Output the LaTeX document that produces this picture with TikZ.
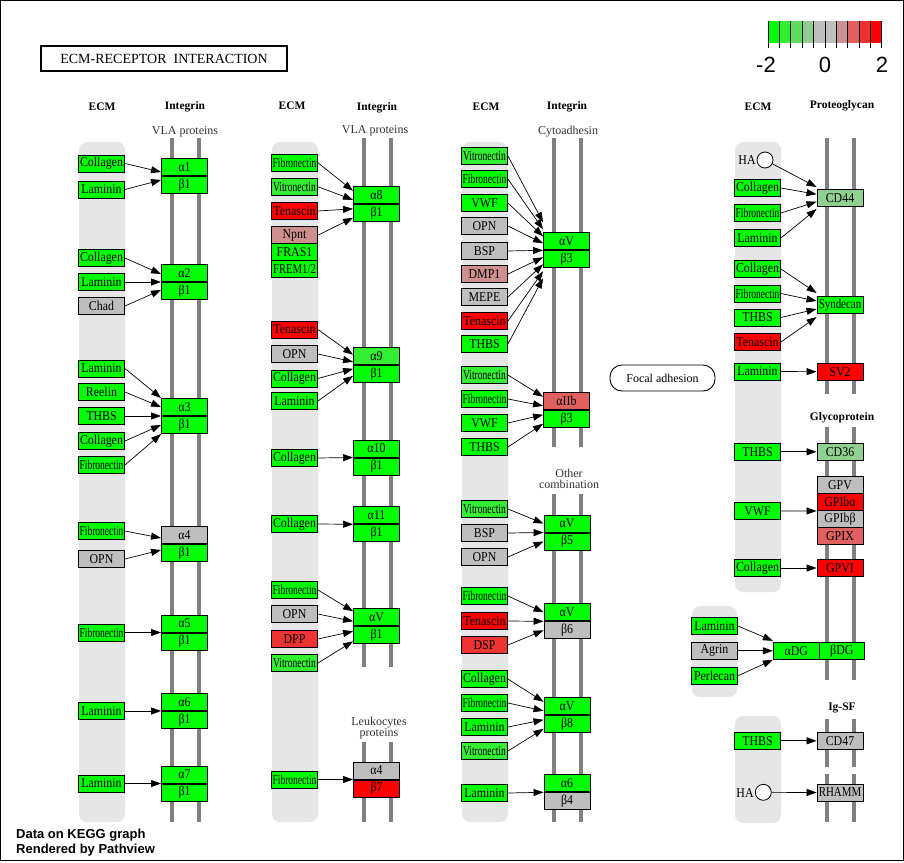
\documentclass[tikz,border=0pt]{standalone}
\usepackage{fontspec}
\setmainfont{Liberation Serif}
\newfontfamily\sansf{Liberation Sans}
\newfontfamily\genef[FakeStretch=0.88]{Liberation Serif}
\usetikzlibrary{arrows.meta,calc}
\definecolor{gA}{HTML}{00FF00}
\definecolor{gB}{HTML}{33EE33}
\definecolor{gC}{HTML}{90D090}
\definecolor{gy}{HTML}{BEBEBE}
\definecolor{rA}{HTML}{CE8F8F}
\definecolor{rB}{HTML}{E06060}
\definecolor{rC}{HTML}{EE3333}
\definecolor{rD}{HTML}{FF0000}
\definecolor{band}{HTML}{E6E6E6}
\definecolor{bar}{HTML}{808080}
\newcommand{\genefont}{\genef\fontsize{13.5}{13.5}\selectfont}
\newcommand{\sq}[2][0.8]{\scalebox{#1}[1]{#2}}
\newcommand{\gn}[5]{\node[gene,fill=#4] (#1) at (#2,#3) {#5};}
\newcommand{\ip}[7]{\node[gene,fill=#5,anchor=south] (#1a) at (#2,#3) {#4};
  \node[gene,fill=#7,anchor=north] (#1b) at (#2,#3) {#6};}
\newcommand{\arw}[3]{\draw[arr] (#1) -- ($(#2)+(0,#3)$);}
\tikzset{
  gene/.style={draw=black, line width=0.9pt, minimum width=46pt, minimum height=17pt, inner sep=0pt, font=\genefont},
  arr/.style={line width=0.7pt, -{Triangle[length=10pt,width=7pt]}},
  hdr/.style={font=\bfseries\fontsize{11.5}{12}\selectfont},
  sub/.style={font=\fontsize{12}{12}\selectfont, text=black!80, align=center, inner sep=0pt},
  bandbox/.style={fill=band, rounded corners=8pt},
  barline/.style={draw=bar, line width=4pt},
  hacirc/.style={draw, circle, fill=white, minimum size=16pt, inner sep=0pt, line width=0.8pt}
}
\begin{document}
\begin{tikzpicture}[x=1pt,y=-1pt]
\useasboundingbox (0,0) rectangle (904,862);
\fill[white] (0,0) rectangle (904,862);
\draw[line width=1pt] (0.5,0.5) rectangle (903.5,860.5);
% title
\node[draw, line width=1.5pt, minimum width=246pt, minimum height=25pt, inner sep=0pt, font=\fontsize{14}{14}\selectfont] (title) at (164,58.5) {ECM-RECEPTOR\ \ INTERACTION};
% legend
\foreach \c [count=\i from 0] in {00FF00,30EE30,5CDD5C,8FCC8F,BEBEBE,BEBEBE,CE8F8F,E06060,EF3030,FF0000}{
  \definecolor{tmpc}{HTML}{\c}
  \fill[tmpc] (768.3+\i*11.34,21) rectangle (768.3+\i*11.34+11.34,42.7);
}
\foreach \i in {0,...,10}{ \draw[line width=1pt] (768.3+\i*11.34,21) -- (768.3+\i*11.34,48.3); }
\node[font=\sansf\fontsize{22}{22}\selectfont, inner sep=0pt] (lm2) at (766,65) {-2};
\node[font=\sansf\fontsize{22}{22}\selectfont, inner sep=0pt] (l0) at (825,65) {0};
\node[font=\sansf\fontsize{22}{22}\selectfont, inner sep=0pt] (l2) at (882,65) {2};
% bands
\fill[bandbox] (79,142) rectangle (125,822);
\fill[bandbox] (272,142) rectangle (318,822);
\fill[bandbox] (462,142) rectangle (508,822);
\fill[bandbox] (735,142) rectangle (781,592);
\fill[bandbox] (692,606) rectangle (737,697);
\fill[bandbox] (735,716) rectangle (781,823);
% bars
\draw[barline] (172,138) -- (172,822); \draw[barline] (199,138) -- (199,822);
\draw[barline] (364,138) -- (364,667); \draw[barline] (391,138) -- (391,667);
\draw[barline] (364,742) -- (364,822); \draw[barline] (391,742) -- (391,822);
\draw[barline] (554,138) -- (554,447); \draw[barline] (581,138) -- (581,447);
\draw[barline] (554,494) -- (554,822); \draw[barline] (581,494) -- (581,822);
\draw[barline] (827,138) -- (827,394); \draw[barline] (854,138) -- (854,394);
\draw[barline] (827,427) -- (827,680); \draw[barline] (854,427) -- (854,680);
\draw[barline] (827,719) -- (827,767); \draw[barline] (854,719) -- (854,767);
\draw[barline] (827,774) -- (827,822); \draw[barline] (854,774) -- (854,822);
% headers
\node[hdr] (h1) at (102,107) {ECM};
\node[hdr] (h2) at (185,107) {Integrin};
\node[sub] (s1) at (185,132) {VLA proteins};
\node[hdr] (h3) at (292,106) {ECM};
\node[hdr] (h4) at (377,108) {Integrin};
\node[sub] (s2) at (375,131) {VLA proteins};
\node[hdr] (h5) at (486,107) {ECM};
\node[hdr] (h6) at (567,107) {Integrin};
\node[sub] (s3) at (568,132) {Cytoadhesin};
\node[hdr] (h7) at (758,107) {ECM};
\node[hdr] (h8) at (842,106) {Proteoglycan};
\node[hdr] (h9) at (842,418) {Glycoprotein};
\node[hdr] (h10) at (842,708) {Ig-SF};
\node[sub] (s4) at (569,479) {Other\\[-1pt]combination};
\node[sub] (s5) at (379,728) {Leukocytes\\[-1pt]proteins};
% ---------- column 1 ----------
\ip{i1}{184.5}{176}{α1}{gA}{β1}{gA}
\gn{e11}{101.5}{163.5}{gA}{Collagen}
\gn{e12}{101.5}{189.5}{gA}{Laminin}
\arw{e11.east}{i1a.south west}{-4}
\arw{e12.east}{i1a.south west}{4}
\ip{i2}{184.5}{282}{α2}{gA}{β1}{gA}
\gn{e21}{101.5}{258}{gA}{Collagen}
\gn{e22}{101.5}{282}{gA}{Laminin}
\gn{e23}{101.5}{306}{gy}{Chad}
\arw{e21.east}{i2a.south west}{-8}
\arw{e22.east}{i2a.south west}{0}
\arw{e23.east}{i2a.south west}{8}
\ip{i3}{184.5}{416}{α3}{gA}{β1}{gA}
\gn{e31}{101.5}{368.5}{gA}{Laminin}
\gn{e32}{101.5}{392}{gA}{Reelin}
\gn{e33}{101.5}{416}{gA}{THBS}
\gn{e34}{101.5}{441}{gA}{Collagen}
\gn{e35}{101.5}{465}{gA}{\sq{Fibronectin}}
\arw{e31.east}{i3a.south west}{-18}
\arw{e32.east}{i3a.south west}{-9}
\arw{e33.east}{i3a.south west}{0}
\arw{e34.east}{i3a.south west}{9}
\arw{e35.east}{i3a.south west}{18}
\ip{i4}{184.5}{544}{α4}{gy}{β1}{gA}
\gn{e41}{101.5}{531}{gA}{\sq{Fibronectin}}
\gn{e42}{101.5}{559}{gy}{OPN}
\arw{e41.east}{i4a.south west}{-6}
\arw{e42.east}{i4a.south west}{6}
\ip{i5}{184.5}{632.5}{α5}{gA}{β1}{gA}
\gn{e51}{101.5}{632.5}{gA}{\sq{Fibronectin}}
\arw{e51.east}{i5a.south west}{0}
\ip{i6}{184.5}{711}{α6}{gA}{β1}{gA}
\gn{e61}{101.5}{711}{gA}{Laminin}
\arw{e61.east}{i6a.south west}{0}
\ip{i7}{184.5}{783.5}{α7}{gA}{β1}{gA}
\gn{e71}{101.5}{783.5}{gA}{Laminin}
\arw{e71.east}{i7a.south west}{0}
% ---------- column 2 ----------
\ip{i8}{376.5}{204.3}{α8}{gA}{β1}{gA}
\gn{f11}{294.5}{162.8}{gA}{\sq{Fibronectin}}
\gn{f12}{294.5}{186.8}{gB}{\sq{Vitronectin}}
\gn{f13}{294.5}{211}{rD}{Tenascin}
\gn{f14}{294.5}{235.2}{rA}{Npnt}
\gn{f15}{294.5}{252.2}{gA}{FRAS1}
\gn{f16}{294.5}{269.2}{gA}{\sq[0.9]{FREM1/2}}
\arw{f11.east}{i8a.south west}{-13.5}
\arw{f12.east}{i8a.south west}{-4.5}
\arw{f13.east}{i8a.south west}{4.5}
\arw{f14.east}{i8a.south west}{13.5}
\ip{i9}{376.5}{365.3}{α9}{gB}{β1}{gA}
\gn{f21}{294.5}{329.5}{rD}{Tenascin}
\gn{f22}{294.5}{354}{gy}{OPN}
\gn{f23}{294.5}{378.5}{gA}{Collagen}
\gn{f24}{294.5}{401}{gA}{Laminin}
\arw{f21.east}{i9a.south west}{-10.5}
\arw{f22.east}{i9a.south west}{-3.5}
\arw{f23.east}{i9a.south west}{3.5}
\arw{f24.east}{i9a.south west}{10.5}
\ip{i10}{376.5}{457.5}{α10}{gA}{β1}{gA}
\gn{f31}{294.5}{458}{gA}{Collagen}
\arw{f31.east}{i10a.south west}{0}
\ip{i11}{376.5}{524.3}{α11}{gA}{β1}{gA}
\gn{f41}{294.5}{524}{gA}{Collagen}
\arw{f41.east}{i11a.south west}{0}
\ip{iva}{376.5}{626.3}{αV}{gA}{β1}{gA}
\gn{f51}{294.5}{590}{gA}{\sq{Fibronectin}}
\gn{f52}{294.5}{614}{gy}{OPN}
\gn{f53}{294.5}{639}{rC}{DPP}
\gn{f54}{294.5}{663}{gB}{\sq{Vitronectin}}
\arw{f51.east}{ivaa.south west}{-15}
\arw{f52.east}{ivaa.south west}{-5}
\arw{f53.east}{ivaa.south west}{5}
\arw{f54.east}{ivaa.south west}{15}
\ip{ilk}{376.5}{779.5}{α4}{gy}{β7}{rD}
\gn{f61}{294.5}{779.5}{gA}{\sq{Fibronectin}}
\arw{f61.east}{ilka.south west}{0}
% ---------- column 3 ----------
\ip{ivb}{566.5}{250.3}{αV}{gA}{β3}{gA}
\gn{g11}{484.5}{156}{gB}{\sq{Vitronectin}}
\gn{g12}{484.5}{179}{gA}{\sq{Fibronectin}}
\gn{g13}{484.5}{203}{gA}{VWF}
\gn{g14}{484.5}{226}{gy}{OPN}
\gn{g15}{484.5}{251}{gy}{BSP}
\gn{g16}{484.5}{274}{rA}{DMP1}
\gn{g17}{484.5}{297}{gy}{MEPE}
\gn{g18}{484.5}{321}{rD}{Tenascin}
\gn{g19}{484.5}{344}{gA}{THBS}
\arw{g11.east}{ivba.south west}{-28}
\arw{g12.east}{ivba.south west}{-21}
\arw{g13.east}{ivba.south west}{-14}
\arw{g14.east}{ivba.south west}{-7}
\arw{g15.east}{ivba.south west}{0}
\arw{g16.east}{ivba.south west}{7}
\arw{g17.east}{ivba.south west}{14}
\arw{g18.east}{ivba.south west}{21}
\arw{g19.east}{ivba.south west}{28}
\ip{iib}{566.5}{410.3}{αIIb}{rB}{β3}{gA}
\gn{g21}{484.5}{375}{gB}{\sq{Vitronectin}}
\gn{g22}{484.5}{399}{gA}{\sq{Fibronectin}}
\gn{g23}{484.5}{423}{gA}{VWF}
\gn{g24}{484.5}{447}{gA}{THBS}
\arw{g21.east}{iiba.south west}{-13.5}
\arw{g22.east}{iiba.south west}{-4.5}
\arw{g23.east}{iiba.south west}{4.5}
\arw{g24.east}{iiba.south west}{13.5}
\ip{ivc}{567}{532.5}{αV}{gA}{β5}{gA}
\gn{g31}{484.5}{509}{gB}{\sq{Vitronectin}}
\gn{g32}{484.5}{533}{gy}{BSP}
\gn{g33}{484.5}{557}{gy}{OPN}
\arw{g31.east}{ivca.south west}{-9}
\arw{g32.east}{ivca.south west}{0}
\arw{g33.east}{ivca.south west}{9}
\ip{ivd}{567}{621.3}{αV}{gA}{β6}{gy}
\gn{g41}{484.5}{596}{gA}{\sq{Fibronectin}}
\gn{g42}{484.5}{621}{rD}{Tenascin}
\gn{g43}{484.5}{645}{rC}{DSP}
\arw{g41.east}{ivda.south west}{-9}
\arw{g42.east}{ivda.south west}{0}
\arw{g43.east}{ivda.south west}{9}
\ip{ive}{567}{715.3}{αV}{gA}{β8}{gA}
\gn{g51}{484.5}{679}{gA}{Collagen}
\gn{g52}{484.5}{703}{gA}{\sq{Fibronectin}}
\gn{g53}{484.5}{727}{gA}{Laminin}
\gn{g54}{484.5}{751}{gB}{\sq{Vitronectin}}
\arw{g51.east}{ivea.south west}{-13.5}
\arw{g52.east}{ivea.south west}{-4.5}
\arw{g53.east}{ivea.south west}{4.5}
\arw{g54.east}{ivea.south west}{13.5}
\ip{isx}{567}{792.3}{α6}{gA}{β4}{gy}
\gn{g61}{484.5}{793}{gA}{Laminin}
\arw{g61.east}{isxa.south west}{0}
% ---------- column 4 ----------
\node[font=\genefont, inner sep=0pt] (hat1) at (747,160.5) {HA};
\node[hacirc] (ha1) at (765,160) {};
\node[gene,fill=gC] (cd44) at (840,198) {CD44};
\gn{k11}{757.5}{188}{gA}{Collagen}
\gn{k12}{757.5}{213}{gA}{\sq{Fibronectin}}
\gn{k13}{757.5}{238}{gA}{Laminin}
\arw{ha1}{cd44.west}{-11}
\arw{k11.east}{cd44.west}{-3.7}
\arw{k12.east}{cd44.west}{3.7}
\arw{k13.east}{cd44.west}{11}
\node[gene,fill=gA] (syn) at (840,305) {\sq[0.92]{Syndecan}};
\gn{k21}{757.5}{269}{gA}{Collagen}
\gn{k22}{757.5}{293.5}{gA}{\sq{Fibronectin}}
\gn{k23}{757.5}{317.5}{gA}{THBS}
\gn{k24}{757.5}{342}{rD}{Tenascin}
\arw{k21.east}{syn.west}{-12}
\arw{k22.east}{syn.west}{-4}
\arw{k23.east}{syn.west}{4}
\arw{k24.east}{syn.west}{12}
\node[gene,fill=rD] (sv2) at (840,371.7) {SV2};
\gn{k31}{757.5}{371.5}{gA}{Laminin}
\arw{k31.east}{sv2.west}{0}
\node[draw, line width=0.9pt, rounded corners=12pt, minimum width=105pt, minimum height=26pt, inner sep=0pt, font=\fontsize{12}{12}\selectfont] (fa) at (662.5,378) {Focal adhesion};
\node[gene,fill=gC] (cd36) at (840,451.8) {CD36};
\gn{k41}{757.5}{451.8}{gA}{THBS}
\arw{k41.east}{cd36.west}{0}
\node[gene,fill=gy] (gpv) at (840,485) {GPV};
\node[gene,fill=rD] (gpiba) at (840,502) {GPIbα};
\node[gene,fill=gy] (gpibb) at (840,519) {GPIbβ};
\node[gene,fill=rB] (gpix) at (840,536) {GPIX};
\gn{k51}{757.5}{511}{gA}{VWF}
\arw{k51.east}{gpiba.south west}{0}
\node[gene,fill=rD] (gpvi) at (840,568) {GPVI};
\gn{k61}{757.5}{568}{gA}{Collagen}
\arw{k61.east}{gpvi.west}{0}
\node[gene,fill=gA] (adg) at (796.3,650.8) {αDG};
\node[gene,fill=gA,minimum width=45pt] (bdg) at (841.8,650.8) {βDG};
\gn{m1}{714.5}{626}{gA}{Laminin}
\gn{m2}{714.5}{650.8}{gy}{Agrin}
\gn{m3}{714.5}{675.8}{gA}{Perlecan}
\arw{m1.east}{adg.west}{-10}
\arw{m2.east}{adg.west}{0}
\arw{m3.east}{adg.west}{9}
\node[gene,fill=gy] (cd47) at (840,740.8) {CD47};
\gn{n1}{757.5}{740.8}{gA}{THBS}
\arw{n1.east}{cd47.west}{0}
\node[font=\genefont, inner sep=0pt] (hat2) at (745,793) {HA};
\node[hacirc] (ha2) at (763.3,792.3) {};
\node[gene,fill=gy] (rhamm) at (840,792.5) {\sq[0.92]{RHAMM}};
\arw{ha2}{rhamm.west}{0}
% footer
\node[font=\sansf\bfseries\fontsize{13}{13}\selectfont, anchor=west, inner sep=0pt] (ft1) at (16,835) {Data on KEGG graph};
\node[font=\sansf\bfseries\fontsize{13}{13}\selectfont, anchor=west, inner sep=0pt] (ft2) at (16,850.5) {Rendered by Pathview};
\end{tikzpicture}
\end{document}
